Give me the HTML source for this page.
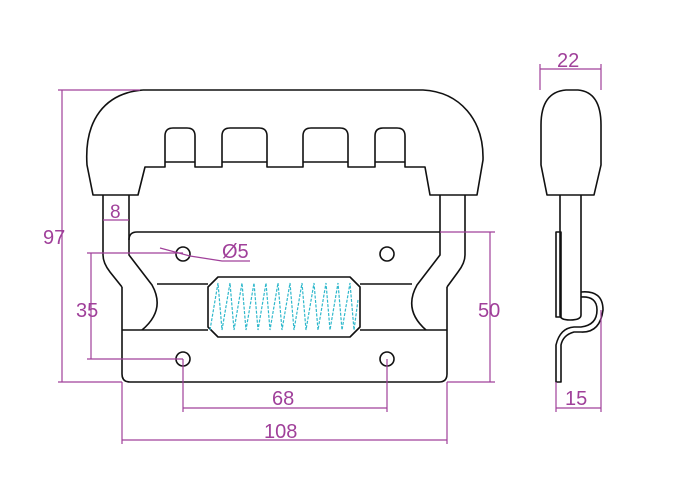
<!DOCTYPE html>
<html><head><style>html,body{margin:0;padding:0;background:#fff}svg{display:block}</style></head>
<body>
<svg width="700" height="500" viewBox="0 0 700 500" xmlns="http://www.w3.org/2000/svg" font-family="Liberation Sans, sans-serif">
<g fill="none" stroke="#111" stroke-width="1.6" stroke-linejoin="round">
<!-- handle grip -->
<path d="M143,90 L423,90 C460,92 484,120 483,160 L477,195 L430,195 L425,167 L405,167 L405,136 Q405,128 397,128 L383,128 Q375,128 375,136 L375,167 L348,167 L348,136 Q348,128 340,128 L311,128 Q303,128 303,136 L303,167 L267,167 L267,136 Q267,128 259,128 L230,128 Q222,128 222,136 L222,167 L195,167 L195,136 Q195,128 187,128 L173,128 Q165,128 165,136 L165,167 L145,167 L138,195 L93,195 L87,165 C84,120 105,93 143,90"/>
<path d="M165,162 L195,162 M222,162 L267,162 M303,162 L348,162 M375,162 L405,162"/>
<!-- left arm -->
<path d="M103,195 L103,255 Q103,263 110,272 L122,287"/>
<path d="M129,195 L129,255 L152,285 Q166,310 142,330"/>
<!-- right arm -->
<path d="M465,195 L465,255 Q465,263 458,272 L447,287"/>
<path d="M440,195 L440,255 L417,285 Q403,310 426,330"/>
<!-- plate -->
<path d="M129,240 Q129,232 137,232 L440,232"/>
<path d="M122,287 L122,374 Q122,382 130,382 L439,382 Q447,382 447,374 L447,287"/>
<path d="M157,284 L208,284 M360,284 L412,284"/>
<path d="M122,330 L208,330 M360,330 L447,330"/>
<path d="M218,277 L350,277 L360,287 L360,327 L350,337 L218,337 L208,327 L208,287 Z"/>
<circle cx="183" cy="254" r="7"/><circle cx="387" cy="254" r="7"/>
<circle cx="183" cy="359" r="7"/><circle cx="387" cy="359" r="7"/>
<!-- side view -->
<path d="M541,125 Q541,92 566,90 L578,90 Q601,92 601,125 L601,165 L594,195 L547,195 L541,165 Z"/>
<path d="M560,195 L560,315 Q560,320 570,320 Q581,320 581,315 L581,195"/>
<path d="M556,232 L561,232 L561,317 L556,317 Z"/>
<path d="M581,292 Q603,290 603,310 Q600,333 581,332 L574,332 Q563,335 561,345 L561,382 L556,382 L556,345 Q560,328 574,327 L581,327 Q597,325 597,310 Q597,296 581,297"/>
</g>
<!-- spring -->
<g fill="none" stroke="#2fb8cc" stroke-width="1.2" stroke-dasharray="3,1.5">
<path d="M210,330 L218,283 L222,330 L230,283 L234,330 L242,283 L246,330 L254,283 L258,330 L266,283 L270,330 L278,283 L282,330 L290,283 L294,330 L302,283 L306,330 L314,283 L318,330 L326,283 L330,330 L338,283 L342,330 L350,283 L354,330 L358,300"/>
</g>
<!-- dimensions -->
<g stroke="#a0409a" stroke-width="1.2" fill="none">
<path d="M58,90 L140,90 M58,382 L122,382 M62,90 L62,382"/>
<path d="M87,253 L183,253 M87,359 L183,359 M91,253 L91,359"/>
<path d="M440,232 L495,232 M447,382 L495,382 M490,232 L490,382"/>
<path d="M103,220 L129,220"/>
<path d="M183,359 L183,412 M387,359 L387,412 M183,408 L387,408"/>
<path d="M122,382 L122,444 M447,382 L447,444 M122,440 L447,440"/>
<path d="M160,248 L190,256 L222,261 L250,261"/>
<path d="M540,64 L540,90 M601,64 L601,90 M540,69 L601,69"/>
<path d="M556,382 L556,412 M601,310 L601,412 M556,408 L601,408"/>
</g>
<g fill="#a0409a" font-size="20">
<text x="43" y="244">97</text>
<text x="76" y="317">35</text>
<text x="478" y="317">50</text>
<text x="110" y="218" font-size="19">8</text>
<text x="222" y="258">Ø5</text>
<text x="272" y="405">68</text>
<text x="264" y="438">108</text>
<text x="557" y="67">22</text>
<text x="565" y="405">15</text>
</g>
</svg>
</body></html>
